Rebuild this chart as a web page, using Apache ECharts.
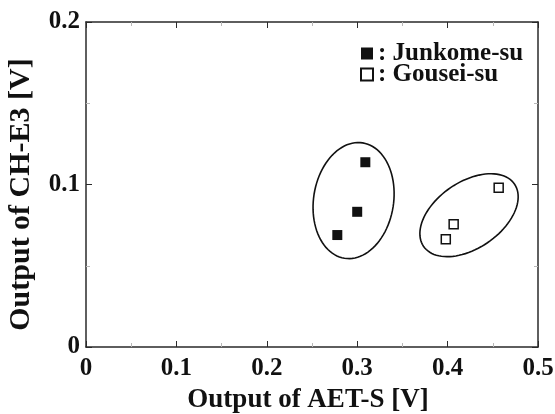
<!DOCTYPE html>
<html>
<head>
<meta charset="utf-8">
<script src="https://cdn.jsdelivr.net/npm/echarts@6/dist/echarts.min.js"></script>
<style>html,body{margin:0;padding:0;background:#fff;}#c{width:555px;height:414px;}</style>
</head>
<body>
<div id="c"></div>
<script>
// ---- data ----
const junkomeX = [0.309, 0.300, 0.278];
const junkomeY = [0.1137, 0.0832, 0.0689];
const gouseiX = [0.4565, 0.4067, 0.398];
const gouseiY = [0.098, 0.0755, 0.0663];
const seriesNames = ['Junkome-su', 'Gousei-su'];
const xTickLabels = ['0', '0.1', '0.2', '0.3', '0.4', '0.5'];
const yTickLabels = ['0', '0.1', '0.2'];
// group ellipses in data units: centre, first semi-axis vector, second semi-axis vector
const junkomeEllipse = [0.296, 0.0901, 0.0101, 0.0355, 0.0437, -0.0039];
const gouseiEllipse = [0.4237, 0.0811, 0.0504, 0.01907, 0.0204, -0.01695];

const FONT = '"Liberation Serif", "Times New Roman", serif';
const zip = (xs, ys) => xs.map((x, i) => [x, ys[i]]);
const fmtX = v => { const s = String(Math.round(v * 10) / 10); return xTickLabels.includes(s) ? s : ''; };
const fmtY = v => { const s = String(Math.round(v * 10) / 10); return yTickLabels.includes(s) ? s : ''; };
const LINE = '#2a2a2a';

const chart = echarts.init(document.getElementById('c'), null, {renderer: 'canvas'});
const baseAxis = {
  min: 0, interval: 0.1,
  axisLine: {show: true, onZero: false, lineStyle: {color: LINE, width: 1.5}},
  axisTick: {show: true, inside: true, length: 6, lineStyle: {color: LINE, width: 1}},
  minorTick: {show: true, splitNumber: 2, length: 4, lineStyle: {color: '#b8b8b8', width: 1}},
  splitLine: {show: false},
  minorSplitLine: {show: false}
};
chart.setOption({
  animation: false,
  backgroundColor: '#fff',
  grid: {left: 86, right: 17, top: 22, bottom: 67, containLabel: false, outerBoundsMode: 'none'},
  legend: {
    data: seriesNames,
    orient: 'vertical',
    left: 355, top: 36,
    itemWidth: 12, itemHeight: 12, itemGap: -4,
    formatter: ': {name}',
    textStyle: {fontFamily: FONT, fontWeight: 'bold', fontSize: 25, color: '#111', lineHeight: 20},
    selectedMode: false
  },
  xAxis: [
    Object.assign({}, baseAxis, {
      type: 'value', max: 0.5, position: 'bottom',
      axisLabel: {formatter: fmtX, fontFamily: FONT, fontWeight: 'bold', fontSize: 25, color: '#111', margin: 9},
      name: 'Output of AET-S [V]', nameLocation: 'middle', nameGap: 40,
      nameTextStyle: {fontFamily: FONT, fontWeight: 'bold', fontSize: 27, color: '#111', padding: [0, 8, 0, 0]}
    }),
    Object.assign({}, baseAxis, {
      type: 'value', max: 0.5, position: 'top', axisLabel: {show: false}
    })
  ],
  yAxis: [
    Object.assign({}, baseAxis, {
      type: 'value', max: 0.2, position: 'left',
      axisLabel: {formatter: fmtY, fontFamily: FONT, fontWeight: 'bold', fontSize: 25, color: '#111', margin: 6},
      name: 'Output of CH-E3 [V]', nameLocation: 'middle', nameGap: 50, nameRotate: 90,
      nameTextStyle: {fontFamily: FONT, fontWeight: 'bold', fontSize: 30, color: '#111', padding: [0, 20, 0, 0]}
    }),
    Object.assign({}, baseAxis, {
      type: 'value', max: 0.2, position: 'right', axisLabel: {show: false}
    })
  ],
  series: [
    {
      name: seriesNames[0], type: 'scatter', symbol: 'rect', symbolSize: 10,
      itemStyle: {color: '#111', borderColor: '#111', borderWidth: 0, opacity: 1},
      data: zip(junkomeX, junkomeY), z: 5
    },
    {
      name: seriesNames[1], type: 'scatter', symbol: 'rect', symbolSize: 9,
      itemStyle: {color: '#fff', borderColor: '#111', borderWidth: 1.5, opacity: 1},
      data: zip(gouseiX, gouseiY), z: 5
    },
    {
      type: 'custom', name: 'groups', silent: true, z: 3,
      data: [junkomeEllipse, gouseiEllipse],
      dimensions: ['cx', 'cy', 'ux', 'uy', 'vx', 'vy'],
      encode: {x: 0, y: 1},
      renderItem: function (params, api) {
        const cx = api.value(0), cy = api.value(1);
        const ux = api.value(2), uy = api.value(3), vx = api.value(4), vy = api.value(5);
        const pts = [];
        const N = 96;
        for (let i = 0; i < N; i++) {
          const t = i / N * Math.PI * 2;
          pts.push(api.coord([cx + ux * Math.cos(t) + vx * Math.sin(t), cy + uy * Math.cos(t) + vy * Math.sin(t)]));
        }
        return {type: 'polygon', shape: {points: pts}, style: {fill: 'none', stroke: '#111', lineWidth: 1.6}};
      }
    }
  ]
});
</script>
</body>
</html>
